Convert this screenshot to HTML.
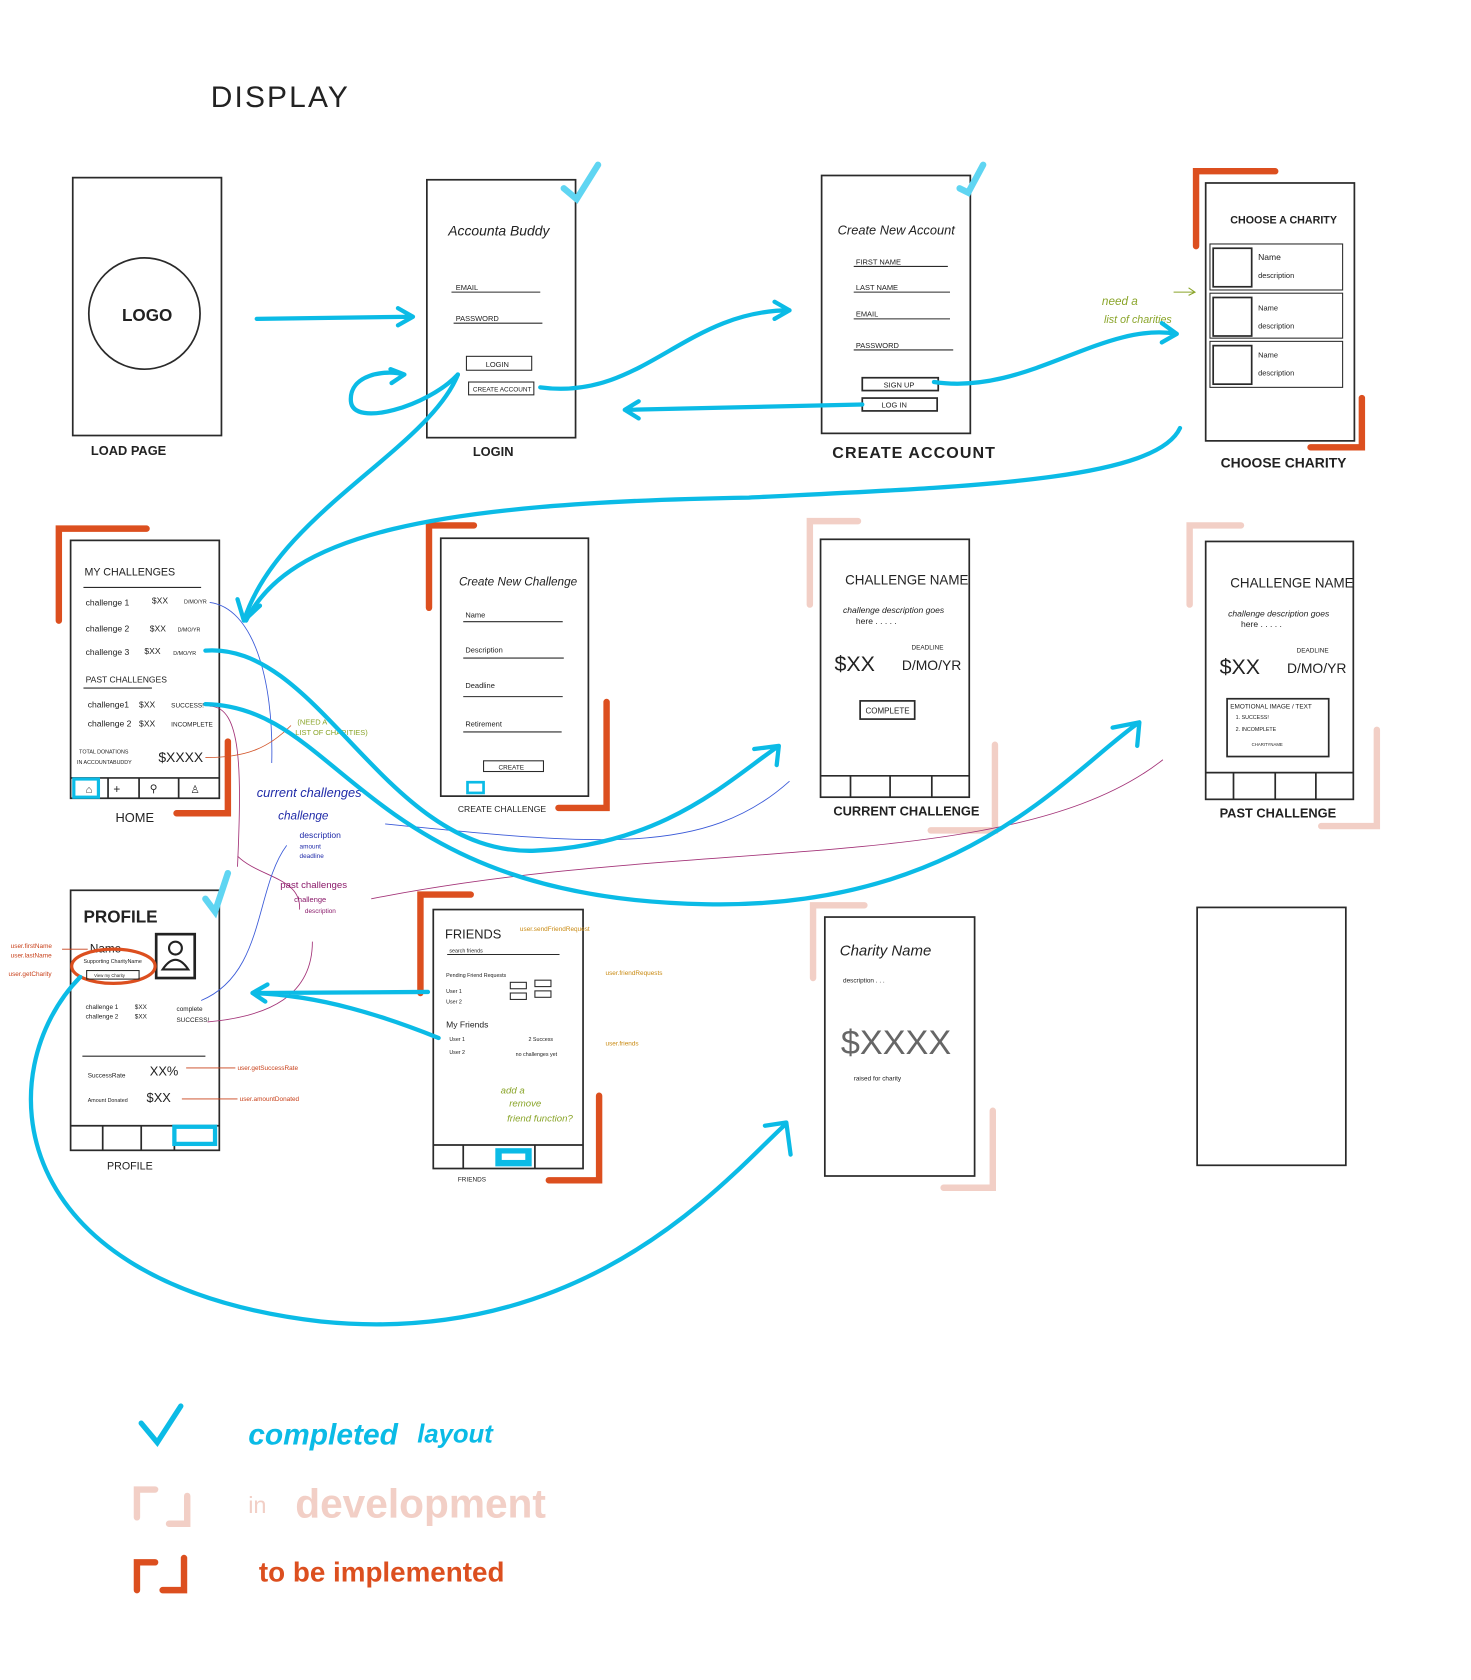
<!DOCTYPE html>
<html><head><meta charset="utf-8"><style>
html,body{margin:0;padding:0;background:#fff}
svg{display:block}
text{font-family:"Liberation Sans",sans-serif;fill:#222}
.b{fill:none;stroke:#2a2a2a;stroke-width:1.6}
.t{fill:none;stroke:#2a2a2a;stroke-width:1}
.c{fill:none;stroke:#0bbbe6;stroke-width:4;stroke-linecap:round;stroke-linejoin:round}
.o{fill:none;stroke:#dc4f1f;stroke-width:6;stroke-linecap:round}
.p{fill:none;stroke:#f2cfc6;stroke-width:6;stroke-linecap:round}
.s{font-size:7px}
</style></head><body>
<svg width="1471" height="1680" viewBox="0 0 1375 1570" preserveAspectRatio="none" xmlns="http://www.w3.org/2000/svg">
<text x="197" y="100" font-size="28" letter-spacing="2">DISPLAY</text>

<!-- Load page -->
<rect class="b" x="68" y="166" width="139" height="241"/>
<circle class="b" cx="135" cy="293" r="52"/>
<text x="114" y="300" font-size="16" font-weight="bold">LOGO</text>
<text x="85" y="425" font-size="12" font-weight="bold">LOAD  PAGE</text>

<!-- Login -->
<rect class="b" x="399" y="168" width="139" height="241"/>
<text x="419" y="220" font-size="13" font-style="italic">Accounta Buddy</text>
<text x="426" y="271" class="s">EMAIL</text><path class="t" d="M422 273H505"/>
<text x="426" y="300" class="s">PASSWORD</text><path class="t" d="M424 302H507"/>
<rect class="t" x="436" y="333" width="61" height="13"/><text x="454" y="343" class="s">LOGIN</text>
<rect class="t" x="438" y="357" width="61" height="12"/><text x="442" y="366" font-size="6">CREATE ACCOUNT</text>
<text x="442" y="426" font-size="12" font-weight="bold">LOGIN</text>
<path d="M527 176l12 10 20-32" fill="none" stroke="#5fd5f2" stroke-width="6" stroke-linecap="round"/>

<!-- Create account -->
<rect class="b" x="768" y="164" width="139" height="241"/>
<text x="783" y="219" font-size="12" font-style="italic">Create New Account</text>
<path class="t" d="M798 249H886M798 273H888M798 298H888M798 327H891"/>
<text x="800" y="247" class="s">FIRST NAME</text><text x="800" y="271" class="s">LAST NAME</text><text x="800" y="296" class="s">EMAIL</text><text x="800" y="325" class="s">PASSWORD</text>
<rect class="b" x="806" y="353" width="71" height="12"/><text x="826" y="362" class="s">SIGN UP</text>
<rect class="b" x="806" y="372" width="70" height="12"/><text x="824" y="381" class="s">LOG IN</text>
<text x="778" y="428" font-size="15" font-weight="bold" letter-spacing="1">CREATE  ACCOUNT</text>
<path d="M897 176l8 4 14-26" fill="none" stroke="#5fd5f2" stroke-width="6" stroke-linecap="round"/>

<!-- Choose charity -->
<rect class="b" x="1127" y="171" width="139" height="241"/>
<text x="1150" y="209" font-size="10" font-weight="bold">CHOOSE A CHARITY</text>
<rect class="t" x="1131" y="228" width="124" height="43"/><rect class="b" x="1134" y="232" width="36" height="36"/>
<rect class="t" x="1131" y="274" width="124" height="42"/><rect class="b" x="1134" y="278" width="36" height="36"/>
<rect class="t" x="1131" y="319" width="124" height="43"/><rect class="b" x="1134" y="323" width="36" height="36"/>
<text x="1176" y="243" font-size="8">Name</text><text x="1176" y="260" font-size="7">description</text>
<text x="1176" y="290" font-size="7">Name</text><text x="1176" y="307" font-size="7">description</text>
<text x="1176" y="334" font-size="7">Name</text><text x="1176" y="351" font-size="7">description</text>
<text x="1141" y="437" font-size="13" font-weight="bold">CHOOSE  CHARITY</text>
<path class="o" d="M1118 230V160H1192M1273 372V418H1225"/>
<text x="1030" y="285" font-size="11" style="fill:#8aa52a" font-style="italic">need a</text>
<text x="1032" y="302" font-size="10" style="fill:#8aa52a" font-style="italic">list of charities</text>
<path d="M1097 273h20m-6-4l6 4-6 3" fill="none" stroke="#8aa52a"/>

<!-- Home -->
<rect class="b" x="66" y="505" width="139" height="241"/>
<path class="o" d="M55 580V494H137M213 693V760H165"/>
<text x="79" y="538" font-size="10">MY CHALLENGES</text><path class="t" d="M78 549H188M78 643H142"/>
<g font-size="8"><text x="80" y="566">challenge 1</text><text x="142" y="564">$XX</text><text x="172" y="564" font-size="5">D/MO/YR</text>
<text x="80" y="590">challenge 2</text><text x="140" y="590">$XX</text><text x="166" y="590" font-size="5">D/MO/YR</text>
<text x="80" y="612">challenge 3</text><text x="135" y="611">$XX</text><text x="162" y="612" font-size="5">D/MO/YR</text>
<text x="80" y="638" font-size="8">PAST CHALLENGES</text>
<text x="82" y="661">challenge1</text><text x="130" y="661">$XX</text><text x="160" y="661" font-size="6">SUCCESS!</text>
<text x="82" y="679">challenge 2</text><text x="130" y="679">$XX</text><text x="160" y="679" font-size="6">INCOMPLETE</text>
<text x="74" y="704" font-size="5">TOTAL DONATIONS</text><text x="72" y="714" font-size="5">IN ACCOUNTABUDDY</text></g>
<text x="148" y="712" font-size="13">$XXXX</text>
<path class="b" d="M66 727H205M101 727V746M130 727V746M167 727V746"/>
<rect x="69" y="728" width="23" height="17" fill="none" stroke="#0bbbe6" stroke-width="3"/>
<text x="80" y="741" font-size="10">⌂</text><text x="106" y="741" font-size="11">+</text><text x="140" y="740" font-size="10">⚲</text><text x="178" y="741" font-size="10">♙</text>
<text x="108" y="768" font-size="12">HOME</text>

<!-- Create challenge -->
<rect class="b" x="412" y="503" width="138" height="241"/>
<path class="o" d="M401 568V491H443M567 656V755H522"/>
<text x="429" y="547" font-size="11" font-style="italic">Create New Challenge</text>
<path class="t" d="M433 581H526M433 615H527M433 651H526M433 684H525"/>
<text x="435" y="577" class="s">Name</text><text x="435" y="610" class="s">Description</text><text x="435" y="643" class="s">Deadline</text><text x="435" y="679" class="s">Retirement</text>
<rect class="t" x="452" y="711" width="56" height="10"/><text x="466" y="719" font-size="6">CREATE</text>
<rect x="437" y="731" width="15" height="10" fill="none" stroke="#0bbbe6" stroke-width="2.5"/>
<text x="428" y="759" font-size="8">CREATE   CHALLENGE</text>

<!-- Current challenge -->
<rect class="b" x="767" y="504" width="139" height="241"/>
<path class="p" d="M757 565V487H802M930 696V776H870"/>
<text x="790" y="546" font-size="12.5">CHALLENGE NAME</text>
<text x="788" y="573" font-size="8" font-style="italic">challenge description goes</text><text x="800" y="583" font-size="8">here . . . . .</text>
<text x="780" y="627" font-size="20">$XX</text><text x="852" y="607" font-size="6">DEADLINE</text><text x="843" y="626" font-size="13">D/MO/YR</text>
<rect class="b" x="804" y="655" width="51" height="17"/><text x="809" y="667" font-size="7.5">COMPLETE</text>
<path class="b" d="M767 725H906M795 725V745M832 725V745M871 725V745"/>
<text x="779" y="762" font-size="12" font-weight="bold">CURRENT  CHALLENGE</text>

<!-- Past challenge -->
<rect class="b" x="1127" y="506" width="138" height="241"/>
<path class="p" d="M1112 565V491H1160M1287 682V772H1235"/>
<text x="1150" y="549" font-size="12.5">CHALLENGE NAME</text>
<text x="1148" y="576" font-size="8" font-style="italic">challenge description goes</text><text x="1160" y="586" font-size="8">here . . . . .</text>
<text x="1140" y="630" font-size="20">$XX</text><text x="1212" y="610" font-size="6">DEADLINE</text><text x="1203" y="629" font-size="13">D/MO/YR</text>
<rect class="b" x="1147" y="653" width="95" height="54"/>
<text x="1150" y="662" font-size="6">EMOTIONAL IMAGE / TEXT</text><text x="1155" y="672" font-size="5">1. SUCCESS!</text><text x="1155" y="683" font-size="5">2. INCOMPLETE</text><text x="1170" y="697" font-size="4">CHARITYNAME</text>
<path class="b" d="M1127 722H1265M1153 722V747M1192 722V747M1230 722V747"/>
<text x="1140" y="764" font-size="12" font-weight="bold">PAST  CHALLENGE</text>

<!-- Profile -->
<rect class="b" x="66" y="832" width="139" height="243"/>
<path d="M192 840l9 12 12-36" fill="none" stroke="#5fd5f2" stroke-width="6" stroke-linecap="round"/>
<text x="78" y="862" font-size="16" font-weight="bold">PROFILE</text>
<text x="84" y="890" font-size="11">Name</text>
<rect x="146" y="873" width="36" height="41" fill="none" stroke="#222" stroke-width="2.5"/>
<circle cx="164" cy="886" r="6" fill="none" stroke="#222" stroke-width="2"/><path d="M152 906q12-18 24 0z" fill="none" stroke="#222" stroke-width="2"/>
<ellipse cx="106" cy="903" rx="39" ry="16" fill="none" stroke="#dc4f1f" stroke-width="3"/>
<text x="78" y="900" font-size="5">Supporting CharityName</text><rect class="t" x="81" y="907" width="49" height="8"/><text x="88" y="913" font-size="4">View my Charity</text>
<g font-size="6"><text x="80" y="943">challenge 1</text><text x="126" y="943">$XX</text><text x="80" y="952">challenge 2</text><text x="126" y="952">$XX</text><text x="165" y="945">complete</text><text x="165" y="955">SUCCESS!</text>
<text x="82" y="1007">SuccessRate</text><text x="82" y="1030" font-size="5">Amount Donated</text></g>
<path class="t" d="M77 987H192"/>
<text x="140" y="1005" font-size="12">XX%</text><text x="137" y="1030" font-size="12">$XX</text>
<path class="b" d="M66 1052H205M96 1052V1075M132 1052V1075M163 1052V1075"/>
<rect x="163" y="1053" width="38" height="16" fill="none" stroke="#0bbbe6" stroke-width="4"/>
<text x="100" y="1093" font-size="10">PROFILE</text>
<g font-size="6"><text x="10" y="886" style="fill:#c8401a">user.firstName</text><text x="10" y="895" style="fill:#c8401a">user.lastName</text><text x="8" y="912" style="fill:#c8401a">user.getCharity</text>
<text x="222" y="1000" style="fill:#c8401a">user.getSuccessRate</text><text x="224" y="1029" style="fill:#c8401a">user.amountDonated</text></g>
<path d="M58 887h24M220 998h-46M222 1027h-52" fill="none" stroke="#c8401a" stroke-width="0.8"/>

<!-- Friends -->
<rect class="b" x="405" y="850" width="140" height="242"/>
<path class="o" d="M393 928V836H440M560 1024V1103H513"/>
<text x="416" y="877" font-size="12">FRIENDS</text>
<path class="t" d="M418 892H523"/><text x="420" y="890" font-size="5">search friends</text>
<g font-size="5"><text x="417" y="913">Pending Friend Requests</text><text x="417" y="928">User 1</text><text x="417" y="938">User 2</text>
<text x="417" y="960" font-size="8">My Friends</text><text x="420" y="973">User 1</text><text x="420" y="985">User 2</text><text x="494" y="973">2 Success</text><text x="482" y="987">no challenges yet</text></g>
<rect class="t" x="477" y="918" width="15" height="6"/><rect class="t" x="500" y="916" width="15" height="6"/><rect class="t" x="477" y="928" width="15" height="6"/><rect class="t" x="500" y="926" width="15" height="6"/>
<path class="b" d="M405 1070H545M433 1070V1092M500 1070V1092"/>
<rect x="463" y="1073" width="34" height="17" fill="#0bbbe6"/><rect x="469" y="1078" width="22" height="6" fill="#fff"/>
<text x="428" y="1104" font-size="6">FRIENDS</text>
<g font-size="9" font-style="italic"><text x="468" y="1022" style="fill:#8aa52a">add a</text><text x="476" y="1034" style="fill:#8aa52a">remove</text><text x="474" y="1048" style="fill:#8aa52a">friend function?</text></g>
<g font-size="6"><text x="566" y="911" style="fill:#c98a12">user.friendRequests</text><text x="566" y="977" style="fill:#c98a12">user.friends</text><text x="486" y="870" style="fill:#c98a12">user.sendFriendRequest</text></g>

<!-- Charity -->
<rect class="b" x="771" y="857" width="140" height="242"/>
<path class="p" d="M760 914V846H808M928 1038V1110H882"/>
<text x="785" y="893" font-size="14" font-style="italic">Charity Name</text>
<text x="788" y="918" font-size="6">description . . .</text>
<text x="786" y="985" font-size="32" style="fill:#666">$XXXX</text>
<text x="798" y="1010" font-size="6">raised  for  charity</text>

<rect class="b" x="1119" y="848" width="139" height="241"/>

<!-- thin annotation lines -->
<path d="M196 563c40 5 60 70 58 150" fill="none" stroke="#3a5ad8" stroke-width="0.8"/>
<path d="M196 660c30 0 30 60 26 150M222 800c20 20 60 20 58 50" fill="none" stroke="#a33378" stroke-width="0.8"/>
<path d="M192 708c40 0 60-10 80-30" fill="none" stroke="#d2552a" stroke-width="0.8"/>
<path d="M268 790c-30 40-20 120-80 145" fill="none" stroke="#3a5ad8" stroke-width="0.8"/>
<path d="M292 880c0 50-40 70-98 75" fill="none" stroke="#a33378" stroke-width="0.8"/>
<path d="M360 770c200 20 300 30 378-40" fill="none" stroke="#3a5ad8" stroke-width="0.8"/>
<path d="M347 840c300-60 600-20 740-130" fill="none" stroke="#a33378" stroke-width="0.8"/>
<text x="240" y="745" font-size="12" font-style="italic" style="fill:#1f2aa8">current challenges</text>
<text x="260" y="766" font-size="11" font-style="italic" style="fill:#1f2aa8">challenge</text>
<text x="280" y="783" font-size="8" style="fill:#1f2aa8">description</text><text x="280" y="793" font-size="6" style="fill:#1f2aa8">amount</text><text x="280" y="802" font-size="6" style="fill:#1f2aa8">deadline</text>
<text x="262" y="830" font-size="9" style="fill:#8a1a6a">past challenges</text><text x="275" y="843" font-size="7" style="fill:#8a1a6a">challenge</text><text x="285" y="853" font-size="6" style="fill:#8a1a6a">description</text>
<text x="278" y="677" font-size="7" style="fill:#8aa52a">(NEED A</text><text x="276" y="687" font-size="7" style="fill:#8aa52a">LIST OF CHARITIES)</text>

<!-- cyan arrows -->
<path class="c" d="M240 298L385 296M372 288l14 8-14 8"/>
<path class="c" d="M428 350C400 380 330 400 328 375C326 350 360 345 378 350M365 345l13 5-12 8"/>
<path class="c" d="M505 362C600 375 640 290 738 290M724 282l14 8-14 8"/>
<path class="c" d="M806 378L584 383M597 375l-13 8 13 8"/>
<path class="c" d="M873 357C960 370 1030 300 1100 312M1086 302l14 10-14 8"/>
<path class="c" d="M1103 400C1080 450 900 455 700 465C400 470 270 500 230 580"/>
<path class="c" d="M428 350C400 420 260 480 228 580M222 560l6 20 15-14"/>
<path class="c" d="M192 608C300 600 360 800 500 795C620 790 680 730 728 697M705 700l23-3-2 18"/>
<path class="c" d="M192 658C320 660 340 840 660 845C900 850 1000 720 1065 675M1040 680l25-5-2 22"/>
<path class="c" d="M410 970C360 950 300 930 236 928M250 920l-14 8 12 8M400 927L240 928"/>
<path class="c" d="M75 913C-10 1000 0 1200 300 1235C550 1260 680 1100 735 1050M715 1052l20-3 4 30"/>

<!-- legend -->
<path d="M132 1330l15 18 22-34" fill="none" stroke="#0bbbe6" stroke-width="5" stroke-linecap="round"/>
<text x="232" y="1350" font-size="28" font-weight="bold" font-style="italic" style="fill:#0bbbe6">completed</text>
<text x="390" y="1348" font-size="24" font-weight="bold" font-style="italic" style="fill:#0bbbe6">layout</text>
<path class="p" d="M128 1418V1392H145M175 1398V1424H158"/>
<text x="232" y="1414" font-size="22" style="fill:#f2cfc6">in</text>
<text x="276" y="1418" font-size="38" font-weight="bold" style="fill:#f2cfc6">development</text>
<path class="o" d="M128 1486V1460H145M172 1456V1486H152"/>
<text x="242" y="1478" font-size="26" font-weight="bold" style="fill:#dc4f1f">to be implemented</text>
</svg>
</body></html>
